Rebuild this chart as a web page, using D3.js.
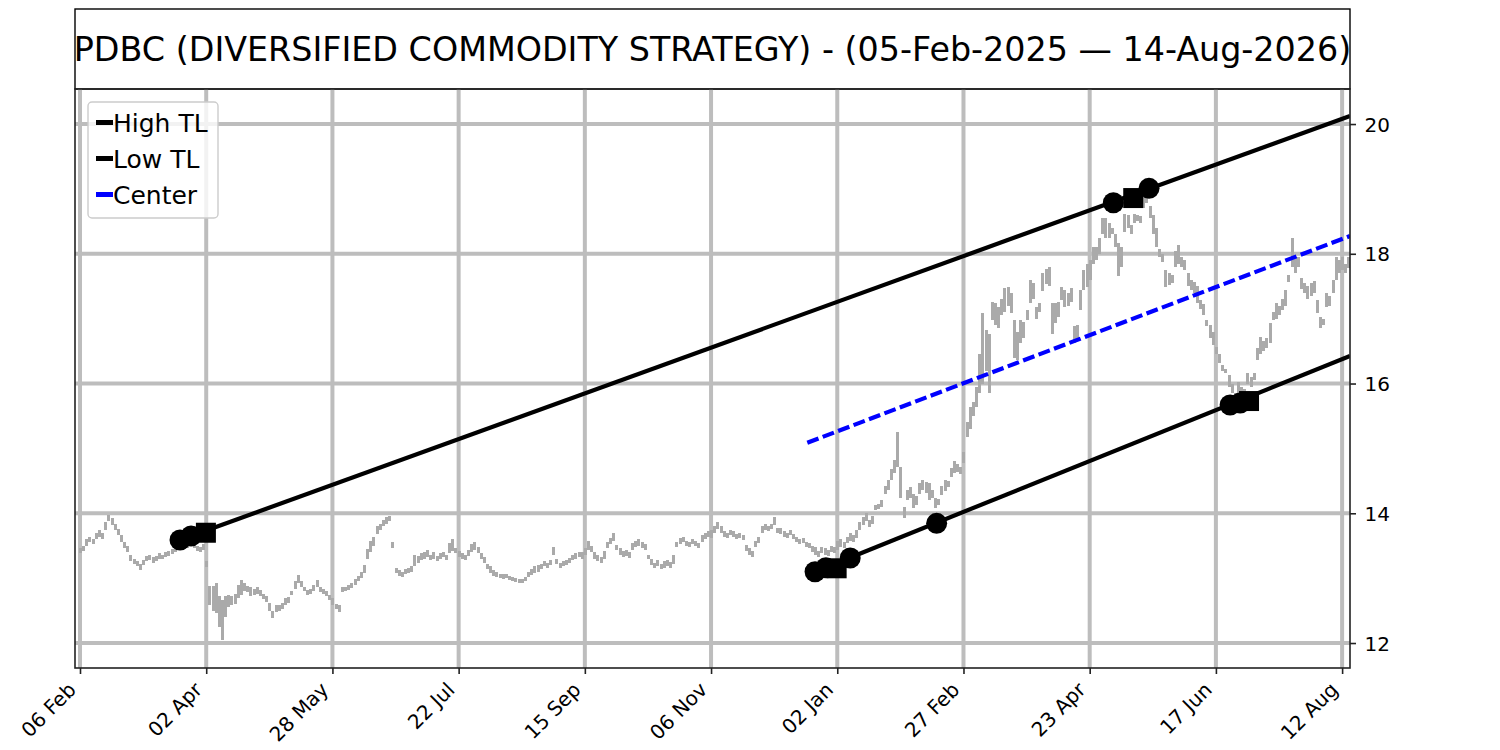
<!DOCTYPE html>
<html><head><meta charset="utf-8">
<script src="https://cdn.jsdelivr.net/npm/d3@7"></script>
<style>body{margin:0;background:#fff} svg{display:block} text{font-family:"DejaVu Sans",sans-serif}</style>
</head><body><svg id="c" width="1500" height="750"></svg>
<script>
const titleText = "PDBC (DIVERSIFIED COMMODITY STRATEGY) - (05-Feb-2025 \u2014 14-Aug-2026)";
const xTickIdx = [0,40,80,120,160,200,240,280,320,360,400];
const xTickLabels = ["06 Feb","02 Apr","28 May","22 Jul","15 Sep","06 Nov","02 Jan","27 Feb","23 Apr","17 Jun","12 Aug"];
const yTicks = [12,14,16,18,20];

// daily low / high bars, index 0..402 (trading days)
const lows = [
13.38,13.42,13.50,13.56,13.52,13.60,13.64,13.60,13.74,13.88,
13.82,13.74,13.66,13.55,13.46,13.40,13.26,13.22,13.18,13.13,
13.20,13.26,13.28,13.24,13.27,13.30,13.29,13.32,13.34,13.37,
13.40,13.44,13.48,13.45,13.47,13.50,13.46,13.42,13.41,13.44,
13.17,12.58,12.50,12.46,12.25,12.05,12.40,12.55,12.58,12.60,
12.70,12.74,12.80,12.78,12.72,12.74,12.76,12.72,12.68,12.63,
12.50,12.38,12.48,12.50,12.52,12.58,12.62,12.74,12.84,12.92,
12.86,12.80,12.74,12.76,12.80,12.86,12.78,12.76,12.72,12.66,
12.58,12.52,12.48,12.78,12.80,12.82,12.85,12.90,12.95,13.00,
13.08,13.30,13.40,13.50,13.68,13.74,13.80,13.84,13.88,13.46,
13.08,13.04,13.02,13.06,13.08,13.10,13.18,13.24,13.28,13.30,
13.32,13.28,13.30,13.26,13.30,13.32,13.28,13.38,13.42,13.38,
13.32,13.30,13.28,13.34,13.40,13.44,13.38,13.30,13.23,13.14,
13.08,13.04,13.02,13.00,12.98,13.00,12.97,12.96,12.94,12.93,
12.92,12.95,13.02,13.05,13.08,13.10,13.14,13.18,13.16,13.20,
13.36,13.22,13.15,13.18,13.20,13.24,13.28,13.30,13.32,13.30,
13.36,13.44,13.40,13.30,13.26,13.23,13.30,13.46,13.52,13.58,
13.44,13.36,13.32,13.34,13.31,13.44,13.48,13.50,13.46,13.43,
13.30,13.20,13.15,13.18,13.14,13.16,13.18,13.15,13.22,13.48,
13.52,13.55,13.50,13.48,13.52,13.50,13.46,13.56,13.60,13.64,
13.62,13.70,13.76,13.70,13.64,13.62,13.66,13.64,13.60,13.62,
13.59,13.42,13.36,13.33,13.48,13.54,13.70,13.74,13.72,13.76,
13.82,13.70,13.68,13.64,13.62,13.66,13.61,13.56,13.52,13.54,
13.48,13.46,13.40,13.36,13.33,13.38,13.36,13.34,13.40,13.38,
13.44,13.48,13.46,13.54,13.58,13.56,13.62,13.74,13.82,13.88,
13.79,13.84,14.05,14.06,14.10,14.30,14.36,14.51,14.62,14.72,
14.23,13.92,14.20,14.24,14.08,14.12,14.30,14.36,14.32,14.20,
14.24,14.08,14.12,14.28,14.34,14.40,14.56,14.62,14.64,14.60,
14.77,15.18,15.30,15.50,15.64,15.85,16.00,16.20,15.85,16.98,
16.90,16.85,17.05,17.10,17.20,17.08,16.39,16.36,16.62,16.70,
16.98,17.24,17.30,17.00,17.10,17.42,17.54,17.50,16.77,16.93,
17.03,17.29,17.18,17.20,17.25,16.62,16.67,17.13,17.44,17.49,
17.60,17.85,17.90,18.00,18.30,18.24,18.24,18.30,18.10,17.65,
17.80,18.34,18.40,18.30,18.47,18.50,18.47,18.70,18.78,18.55,
18.30,18.10,17.95,17.88,17.49,17.52,17.55,17.80,17.85,17.80,
17.75,17.50,17.44,17.40,17.24,17.15,17.06,16.88,16.70,16.60,
16.45,16.31,16.20,16.16,15.95,15.85,15.72,15.82,15.84,15.80,
16.00,15.95,16.05,16.36,16.45,16.50,16.55,16.62,16.98,17.00,
17.05,17.13,17.20,17.57,17.80,17.70,17.80,17.45,17.40,17.31,
17.35,17.40,17.08,16.85,16.90,17.18,17.20,17.40,17.60,17.70,
17.75,17.70,17.78
];
const highs = [
13.46,13.50,13.60,13.64,13.60,13.70,13.74,13.70,13.86,13.98,
13.92,13.84,13.76,13.66,13.56,13.50,13.36,13.30,13.27,13.22,
13.28,13.34,13.36,13.32,13.34,13.38,13.36,13.40,13.42,13.45,
13.48,13.52,13.57,13.53,13.55,13.58,13.53,13.50,13.48,13.52,
13.26,12.88,12.88,12.92,12.72,12.67,12.72,12.74,12.72,12.76,
12.90,12.97,12.92,12.88,12.86,12.84,12.86,12.82,12.76,12.72,
12.61,12.50,12.58,12.58,12.62,12.70,12.71,12.80,12.96,13.05,
12.96,12.86,12.82,12.84,12.90,12.97,12.86,12.84,12.80,12.74,
12.70,12.60,12.58,12.87,12.86,12.90,12.93,12.98,13.04,13.10,
13.20,13.45,13.58,13.64,13.80,13.84,13.90,13.94,13.96,13.56,
13.15,13.12,13.10,13.14,13.16,13.18,13.36,13.34,13.38,13.40,
13.43,13.36,13.40,13.34,13.38,13.40,13.36,13.54,13.61,13.46,
13.42,13.38,13.36,13.44,13.52,13.56,13.48,13.38,13.32,13.22,
13.18,13.12,13.10,13.07,13.06,13.06,13.04,13.02,13.00,12.99,
12.98,13.02,13.10,13.14,13.18,13.20,13.22,13.26,13.24,13.28,
13.48,13.30,13.24,13.26,13.28,13.31,13.36,13.38,13.40,13.41,
13.46,13.58,13.50,13.40,13.36,13.32,13.42,13.56,13.62,13.70,
13.51,13.46,13.42,13.44,13.40,13.54,13.58,13.61,13.56,13.52,
13.36,13.30,13.24,13.28,13.22,13.26,13.28,13.25,13.36,13.56,
13.62,13.64,13.58,13.56,13.61,13.58,13.54,13.66,13.70,13.72,
13.74,13.80,13.87,13.80,13.72,13.70,13.74,13.72,13.68,13.70,
13.66,13.51,13.46,13.42,13.58,13.64,13.80,13.84,13.80,13.84,
13.95,13.78,13.77,13.72,13.70,13.74,13.68,13.64,13.60,13.62,
13.56,13.54,13.50,13.48,13.42,13.48,13.46,13.44,13.50,13.48,
13.58,13.60,13.56,13.64,13.70,13.66,13.74,13.86,13.94,14.00,
13.90,13.96,14.12,14.15,14.20,14.42,14.51,14.68,14.82,15.26,
14.72,14.10,14.36,14.41,14.30,14.26,14.46,14.51,14.48,14.46,
14.36,14.23,14.22,14.42,14.51,14.50,14.70,14.80,14.76,14.72,
14.95,15.40,15.64,15.72,15.95,16.46,17.08,16.83,16.77,17.26,
17.24,17.18,17.30,17.47,17.49,17.40,16.98,16.80,16.98,16.95,
17.13,17.60,17.55,17.18,17.24,17.70,17.77,17.80,17.24,17.24,
17.26,17.49,17.44,17.40,17.47,16.88,16.90,17.44,17.75,17.85,
17.90,18.10,18.10,18.24,18.55,18.55,18.47,18.40,18.30,18.16,
18.10,18.62,18.60,18.45,18.62,18.60,18.58,18.88,18.95,18.73,
18.60,18.40,18.08,18.00,17.75,17.70,17.68,18.05,18.13,17.95,
17.90,17.70,17.60,17.57,17.50,17.29,17.22,16.98,16.90,16.80,
16.57,16.45,16.28,16.23,16.13,16.00,15.85,16.03,15.95,15.92,
16.16,16.10,16.16,16.55,16.72,16.65,16.70,16.93,17.10,17.24,
17.20,17.30,17.44,17.67,18.24,17.95,17.95,17.62,17.55,17.50,
17.55,17.58,17.29,17.03,17.00,17.39,17.35,17.60,17.95,17.90,
17.95,17.85,17.95
];

// trend lines: [start, end] as (index, value)
const highTLIdx = [31.7, 402.5],  highTLVal = [13.588, 20.123];
const lowTLIdx  = [232.96, 402.5], lowTLVal  = [13.099, 16.424];
const centerIdx = [230.5, 402.5],  centerVal = [15.087, 18.274];

// pivot markers
const circleIdx = [31.7, 35.2, 327.5, 338.8, 232.96, 236.4, 244.1, 271.5, 364.5, 367.7];
const circleVal = [13.588, 13.65, 18.787, 19.009, 13.099, 13.16, 13.31, 13.845, 15.669, 15.70];
const squareIdx = [39.9, 333.8, 239.8, 370.5];
const squareVal = [13.70, 18.859, 13.152, 15.73];

const legendNames  = ["High TL", "Low TL", "Center"];
const legendColors = ["#000000", "#000000", "#0000ff"];

const svg = d3.select("#c");
const L = 75, R = 1350, T = 89, B = 668;
const x = d3.scaleLinear().domain([-1.585, 402.5]).range([L, R]);
const y = d3.scaleLinear().domain([11.615, 20.54]).range([B, T]);

svg.append("defs").append("clipPath").attr("id","clip")
  .append("rect").attr("x",L).attr("y",T).attr("width",R-L).attr("height",B-T);

// title box
svg.append("rect").attr("x",L).attr("y",9).attr("width",R-L).attr("height",T-9)
  .attr("fill","#fff").attr("stroke","#000").attr("stroke-width",1.4);
const tt = svg.append("text").attr("x",(L+R)/2).attr("y",61).attr("text-anchor","middle")
  .attr("font-size",30).attr("fill","#000").text(titleText);
const tw = tt.node().getComputedTextLength();
tt.attr("font-size", 30 * 1278 / tw);

// grid
const grid = svg.append("g").attr("stroke","#bdbdbd").attr("stroke-width",4);
grid.selectAll("line.v").data(xTickIdx).join("line").attr("class","v")
  .attr("x1",d=>x(d)).attr("x2",d=>x(d)).attr("y1",T).attr("y2",B);
grid.selectAll("line.h").data(yTicks).join("line").attr("class","h")
  .attr("x1",L).attr("x2",R).attr("y1",d=>y(d)).attr("y2",d=>y(d));

const plot = svg.append("g").attr("clip-path","url(#clip)");

// price bars
plot.append("g").attr("stroke","#aaaaaa").attr("stroke-width",3).attr("shape-rendering","crispEdges")
  .selectAll("line").data(lows).join("line")
  .attr("x1",(d,i)=>Math.round(x(i))+0.5).attr("x2",(d,i)=>Math.round(x(i))+0.5)
  .attr("y1",d=>y(d)).attr("y2",(d,i)=>y(highs[i]));

// trend lines
const line = d3.line().x(d=>x(d[0])).y(d=>y(d[1]));
plot.append("path").datum(d3.zip(highTLIdx, highTLVal)).attr("d",line)
  .attr("stroke","#000").attr("stroke-width",4.2).attr("fill","none");
plot.append("path").datum(d3.zip(lowTLIdx, lowTLVal)).attr("d",line)
  .attr("stroke","#000").attr("stroke-width",4.2).attr("fill","none");
plot.append("path").datum(d3.zip(centerIdx, centerVal)).attr("d",line)
  .attr("stroke","#0000ff").attr("stroke-width",4.2).attr("fill","none")
  .attr("stroke-dasharray","12,4.5");

// markers
plot.append("g").selectAll("circle").data(d3.zip(circleIdx, circleVal)).join("circle")
  .attr("cx",d=>x(d[0])).attr("cy",d=>y(d[1])).attr("r",10.5).attr("fill","#000");
const sq = 20;
plot.append("g").selectAll("rect").data(d3.zip(squareIdx, squareVal)).join("rect")
  .attr("x",d=>x(d[0])-sq/2).attr("y",d=>y(d[1])-sq/2).attr("width",sq).attr("height",sq).attr("fill","#000");

// frame
svg.append("rect").attr("x",L).attr("y",T).attr("width",R-L).attr("height",B-T)
  .attr("fill","none").attr("stroke","#222").attr("stroke-width",1.6);

// axes
const xa = svg.append("g").attr("transform",`translate(0,${B})`)
  .call(d3.axisBottom(x).tickValues(xTickIdx).tickFormat((d,i)=>xTickLabels[i]).tickSize(6).tickSizeOuter(0));
xa.select(".domain").remove();
xa.selectAll(".tick line").attr("stroke","#222").attr("stroke-width",1.6);
xa.selectAll(".tick text").attr("font-size",20).attr("font-family","DejaVu Sans").attr("fill","#000")
  .attr("text-anchor","end").attr("dy",0).attr("x",-3.3).attr("y",23)
  .attr("transform","rotate(-45,-3.3,23)");

const ya = svg.append("g").attr("transform",`translate(${R},0)`)
  .call(d3.axisRight(y).tickValues(yTicks).tickSize(6).tickSizeOuter(0));
ya.select(".domain").remove();
ya.selectAll(".tick line").attr("stroke","#222").attr("stroke-width",1.6);
ya.selectAll(".tick text").attr("font-size",20).attr("font-family","DejaVu Sans").attr("fill","#000")
  .attr("x",14.6).attr("dy","0.36em");

// legend
const lg = svg.append("g");
lg.append("rect").attr("x",88).attr("y",102).attr("width",130).attr("height",116).attr("rx",4)
  .attr("fill","#fff").attr("fill-opacity",0.8).attr("stroke","#cccccc").attr("stroke-width",1.4);
legendNames.forEach((n,i)=>{
  const cy = 122.5 + i*36;
  lg.append("line").attr("x1",96).attr("x2",113).attr("y1",cy).attr("y2",cy)
    .attr("stroke",legendColors[i]).attr("stroke-width",5);
  lg.append("text").attr("x",113).attr("y",cy+9).attr("font-size",25).attr("fill","#000").text(n);
});
</script></body></html>
